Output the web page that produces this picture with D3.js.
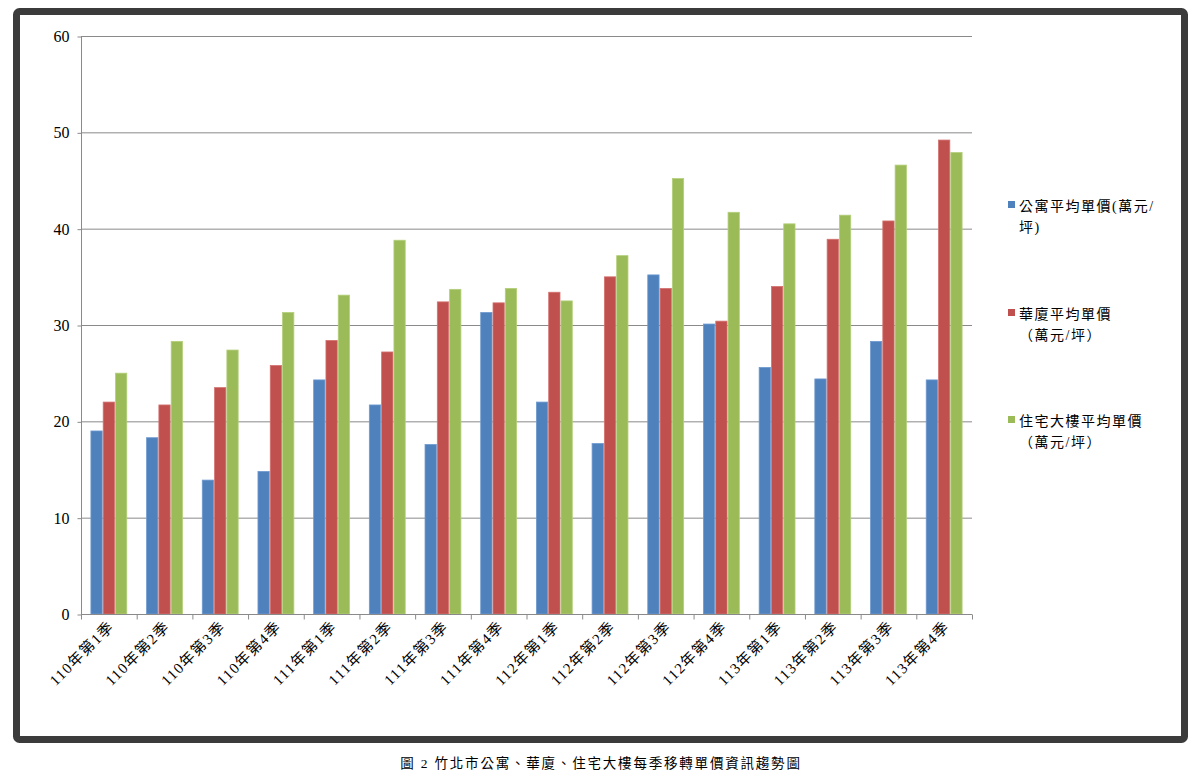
<!DOCTYPE html>
<html>
<head>
<meta charset="utf-8">
<script src="https://cdn.jsdelivr.net/npm/d3@7"></script>
<style>
  html, body { margin: 0; padding: 0; background: #fff; }
  svg { display: block; }
</style>
</head>
<body>
<svg id="chart" width="1200" height="778"></svg>
<script>
const categories = ["110年第1季","110年第2季","110年第3季","110年第4季",
  "111年第1季","111年第2季","111年第3季","111年第4季",
  "112年第1季","112年第2季","112年第3季","112年第4季",
  "113年第1季","113年第2季","113年第3季","113年第4季"];
const apartment = [19.0,18.3,13.9,14.8,24.3,21.7,17.6,31.3,22.0,17.7,35.2,30.1,25.6,24.4,28.3,24.3];
const mansion   = [22.0,21.7,23.5,25.8,28.4,27.2,32.4,32.3,33.4,35.0,33.8,30.4,34.0,38.9,40.8,49.2];
const building  = [25.0,28.3,27.4,31.3,33.1,38.8,33.7,33.8,32.5,37.2,45.2,41.7,40.5,41.4,46.6,47.9];
const seriesNames = ["公寓平均單價(萬元/坪)","華廈平均單價（萬元/坪）","住宅大樓平均單價（萬元/坪）"];
const legendLines = [["公寓平均單價(萬元/","坪)"],["華廈平均單價","（萬元/坪）"],["住宅大樓平均單價","（萬元/坪）"]];
const yTicks = [0,10,20,30,40,50,60];
const caption = "圖 2 竹北市公寓、華廈、住宅大樓每季移轉單價資訊趨勢圖";

const colors = ["#4F81BD","#C0504D","#9BBB59"];
const strokes = ["#6F9AD0","#D47370","#B3CF7A"];
const serif = "'Liberation Serif','Noto Sans CJK TC',serif";

const svg = d3.select("#chart");

// frame
svg.append("rect").attr("x",16.5).attr("y",11.5).attr("width",1168).attr("height",728)
  .attr("rx",3).attr("fill","#fff").attr("stroke","#3b3b3b").attr("stroke-width",7);

const pLeft = 81, pRight = 972, pTop = 36, pBottom = 614;
const y = d3.scaleLinear().domain([0,60]).range([pBottom, pTop]);
const x0 = d3.scaleBand().domain(categories).range([pLeft,pRight]);
const x1 = d3.scaleBand().domain([0,1,2]).range([9.4, x0.bandwidth()-9.4]);

// gridlines
svg.append("g").selectAll("line").data(yTicks.filter(d=>d>0)).join("line")
  .attr("x1",pLeft).attr("x2",pRight).attr("y1",d=>y(d)+0.5).attr("y2",d=>y(d)+0.5)
  .attr("stroke","#8a8a8a").attr("stroke-width",1);

// bars
const data = [apartment, mansion, building];
const g = svg.append("g");
categories.forEach((c,i)=>{
  data.forEach((arr,s)=>{
    g.append("rect")
      .attr("x", x0(c)+x1(s)+0.5)
      .attr("y", y(arr[i]))
      .attr("width", x1.bandwidth()-1)
      .attr("height", y(0)-y(arr[i]))
      .attr("fill", colors[s])
      .attr("stroke", strokes[s]).attr("stroke-width",0.8);
  });
});

// y axis
const yAxis = d3.axisLeft(y).tickValues(yTicks).tickSize(4).tickPadding(8).tickFormat(d3.format("d"));
const ya = svg.append("g").attr("transform",`translate(${pLeft+0.5},0.5)`).call(yAxis);
ya.select(".domain").attr("stroke","#8a8a8a").attr("d",`M0,${pTop}V${pBottom}`);
ya.selectAll(".tick line").attr("stroke","#8a8a8a");
ya.selectAll("text").attr("font-family",serif).attr("font-size",16).attr("fill","#000");

// x axis
const xa = svg.append("g").attr("transform",`translate(0,${pBottom+0.5})`);
xa.append("line").attr("x1",pLeft).attr("x2",pRight).attr("stroke","#8a8a8a");
xa.selectAll("line.t").data(d3.range(categories.length+1)).join("line").attr("class","t")
  .attr("x1",i=>pLeft+i*x0.step()+0.5).attr("x2",i=>pLeft+i*x0.step()+0.5)
  .attr("y1",0).attr("y2",5).attr("stroke","#8a8a8a");
xa.selectAll("text.lbl").data(categories).join("text").attr("class","lbl")
  .attr("transform",d=>`translate(${x0(d)+x0.bandwidth()/2+6},${13}) rotate(-45)`)
  .attr("text-anchor","end")
  .attr("font-family",serif).attr("font-size",15).attr("letter-spacing",1.3)
  .attr("fill","#000").text(d=>d);

// legend
const legY = [201, 309, 416];
const lg = svg.append("g");
legendLines.forEach((lines,s)=>{
  lg.append("rect").attr("x",1008).attr("y",legY[s]).attr("width",7).attr("height",7).attr("fill",colors[s]);
  lines.forEach((t,k)=>{
    lg.append("text").attr("x",1019).attr("y",legY[s]+10+k*21)
      .attr("font-family",serif).attr("font-size",14).attr("letter-spacing",1.5)
      .attr("fill","#000").text(t);
  });
});

// caption
svg.append("text").attr("x",601).attr("y",768).attr("text-anchor","middle")
  .attr("font-family",serif).attr("font-size",13.5).attr("letter-spacing",1.8)
  .attr("fill","#000").text(caption);
</script>
</body>
</html>
